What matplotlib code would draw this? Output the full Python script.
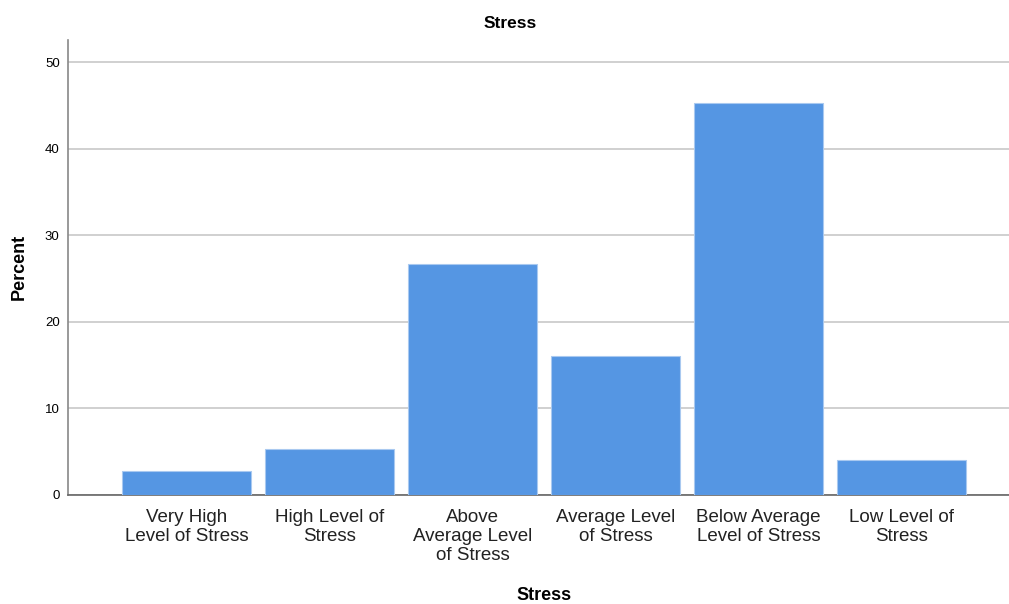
import matplotlib.pyplot as plt

plt.rcParams['font.family'] = ['Liberation Sans', 'DejaVu Sans']

categories = ['Very High\nLevel of Stress', 'High Level of\nStress',
              'Above\nAverage Level\nof Stress', 'Average Level\nof Stress',
              'Below Average\nLevel of Stress', 'Low Level of\nStress']
percent = [2.7, 5.3, 26.7, 16.0, 45.3, 4.0]
yticks = [0, 10, 20, 30, 40, 50]

fig = plt.figure(figsize=(10.09, 6.04), dpi=100)
ax = fig.add_axes([68 / 1009, (604 - 494.7) / 604, 1 - 68 / 1009, (494.7 - 40) / 604])

x = list(range(len(categories)))
ax.bar(x, percent, width=0.9, color='#5596E3', edgecolor='#A9C9F0', linewidth=0.8, zorder=3)

ax.set_xlim(-0.83, 5.75)
ax.set_ylim(0, 52.57)
ax.set_yticks(yticks)
ax.set_xticks(x)
ax.set_xticklabels(categories, fontsize=13.5, linespacing=1.18, color='#222222')
ax.tick_params(axis='x', length=0, pad=10)
ax.tick_params(axis='y', length=0, pad=6, labelsize=9.5)
ax.yaxis.grid(True, color='#C8C8C8', linewidth=1.2, zorder=0)

for s in ['top', 'right']:
    ax.spines[s].set_visible(False)
ax.spines['left'].set_color('#888888')
ax.spines['bottom'].set_color('#666666')
ax.spines['left'].set_linewidth(1.2)
ax.spines['bottom'].set_linewidth(1.2)

ax.set_ylabel('Percent', fontsize=13, fontweight='bold', labelpad=12)
ax.set_xlabel('Stress', fontsize=13, fontweight='bold', labelpad=16.5)
ax.xaxis.label.set_x(0.506)
fig.text(510 / 1009, 1 - 23 / 604, 'Stress', ha='center', va='center', fontsize=12.5, fontweight='bold')

fig.savefig('out.png', dpi=100)
